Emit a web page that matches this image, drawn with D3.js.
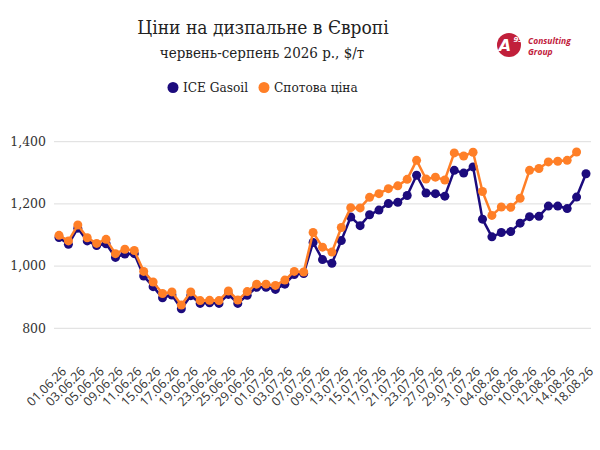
<!DOCTYPE html>
<html>
<head>
<meta charset="utf-8">
<script src="https://cdn.jsdelivr.net/npm/d3@7"></script>
<style>
  body { margin: 0; background: #fff; }
  svg { display: block; }
</style>
</head>
<body>
<svg id="chart" width="600" height="450"></svg>
<script>
// trading days, 01.06.26 - 18.08.26
var dates = [
  '01.06.26','02.06.26','03.06.26','04.06.26','05.06.26','08.06.26','09.06.26','10.06.26','11.06.26','12.06.26',
  '15.06.26','16.06.26','17.06.26','18.06.26','19.06.26','22.06.26','23.06.26','24.06.26','25.06.26','26.06.26',
  '29.06.26','30.06.26','01.07.26','02.07.26','03.07.26','06.07.26','07.07.26','08.07.26','09.07.26','10.07.26',
  '13.07.26','14.07.26','15.07.26','16.07.26','17.07.26','20.07.26','21.07.26','22.07.26','23.07.26','24.07.26',
  '27.07.26','28.07.26','29.07.26','30.07.26','31.07.26','03.08.26','04.08.26','05.08.26','06.08.26','07.08.26',
  '10.08.26','11.08.26','12.08.26','13.08.26','14.08.26','17.08.26','18.08.26'
];

var iceGasoil = [
  1092,1070,1122,1081,1066,1072,1028,1039,1040,968,
  934,898,907,863,905,880,882,880,909,880,
  906,932,932,925,942,973,976,1076,1021,1009,
  1082,1158,1130,1165,1180,1201,1205,1227,1292,1235,
  1233,1225,1308,1299,1319,1151,1094,1108,1111,1138,
  1159,1160,1193,1193,1185,1222,1297
];

// spot price has no value for the last day
var spotPrice = [
  1099,1081,1132,1091,1073,1086,1040,1054,1050,983,
  949,912,917,875,917,889,890,889,920,891,
  918,942,942,938,955,983,981,1108,1061,1045,
  1124,1188,1187,1221,1233,1249,1258,1279,1340,1280,
  1286,1277,1364,1354,1366,1240,1163,1190,1189,1218,
  1308,1314,1335,1337,1340,1367
];

var yTicks = [800, 1000, 1200, 1400];
var tickLabels = dates.filter(function(d, i) { return i % 2 === 0; });

var seriesNames = ['ICE Gasoil', 'Спотова ціна'];
var colors = ['#1c0b7d', '#ff7f27'];

var serif = '"DejaVu Serif", serif';
var serifNarrow = '"DejaVu Serif Condensed", "DejaVu Serif", serif';
var sans = '"Open Sans", "Noto Sans", sans-serif';

var svg = d3.select('#chart');

var x = d3.scalePoint().domain(dates).range([59, 586]);
var y = d3.scaleLinear().domain([800, 1400]).range([328.3, 141.7]);

// title
svg.append('text')
  .attr('x', 263).attr('y', 34)
  .attr('text-anchor', 'middle')
  .style('font-family', serifNarrow).style('font-stretch', 'condensed')
  .style('font-size', '19px')
  .style('fill', '#222')
  .text('Ціни на дизпальне в Європі');

svg.append('text')
  .attr('x', 262).attr('y', 58)
  .attr('text-anchor', 'middle')
  .style('font-family', serifNarrow).style('font-stretch', 'condensed')
  .style('font-size', '15px')
  .style('fill', '#222')
  .text('червень-серпень 2026 р., $/т');

// logo
var logo = svg.append('g').attr('transform', 'translate(509,45)');
logo.append('circle').attr('r', 12).attr('fill', '#c1203b');
logo.append('text')
  .attr('x', -4).attr('y', 6)
  .attr('text-anchor', 'middle')
  .style('font-family', '"DejaVu Sans", sans-serif')
  .style('font-weight', 'bold').style('font-style', 'italic')
  .style('font-size', '16px').style('fill', '#fff')
  .text('A');
logo.append('text')
  .attr('x', 4.5).attr('y', -3)
  .style('font-family', '"DejaVu Sans", sans-serif')
  .style('font-weight', 'bold').style('font-style', 'italic')
  .style('font-size', '7px').style('fill', '#fff')
  .text('95');
logo.append('text')
  .attr('x', 19).attr('y', -1.5)
  .style('font-family', '"Open Sans", sans-serif')
  .style('font-weight', 'bold').style('font-style', 'italic')
  .style('font-size', '8.5px').style('fill', '#c1203b')
  .text('Consulting');
logo.append('text')
  .attr('x', 19).attr('y', 9.5)
  .style('font-family', '"Open Sans", sans-serif')
  .style('font-weight', 'bold').style('font-style', 'italic')
  .style('font-size', '8.5px').style('fill', '#c1203b')
  .text('Group');

// legend
var legendX = [173, 264];
var legend = svg.append('g');
seriesNames.forEach(function(name, i) {
  legend.append('circle')
    .attr('cx', legendX[i]).attr('cy', 87.5).attr('r', 5.5)
    .attr('fill', colors[i]);
  legend.append('text')
    .attr('x', legendX[i] + 10).attr('y', 92)
    .style('font-family', serifNarrow).style('font-stretch', 'condensed')
    .style('font-size', '13.5px')
    .style('fill', '#222')
    .text(name);
});

// grid + y labels
var grid = svg.append('g');
grid.selectAll('line')
  .data(yTicks)
  .enter().append('line')
    .attr('x1', 54).attr('x2', 591)
    .attr('y1', function(d) { return y(d); })
    .attr('y2', function(d) { return y(d); })
    .attr('stroke', '#dddddd').attr('stroke-width', 1);
grid.selectAll('text')
  .data(yTicks)
  .enter().append('text')
    .attr('x', 46)
    .attr('y', function(d) { return y(d); })
    .attr('dy', '0.35em')
    .attr('text-anchor', 'end')
    .style('font-family', serif).style('font-size', '12.5px')
    .style('fill', '#333')
    .text(d3.format(','));

// x labels
svg.append('g').selectAll('text')
  .data(tickLabels)
  .enter().append('text')
    .attr('transform', function(d) { return 'translate(' + (x(d) + 5) + ',369) rotate(-45)'; })
    .attr('text-anchor', 'end')
    .attr('dy', '0.35em')
    .style('font-family', sans).style('font-size', '12.5px')
    .style('fill', '#333')
    .text(function(d) { return d; });

// series
var data = [
  iceGasoil.map(function(v, i) { return { d: dates[i], v: v }; }),
  spotPrice.map(function(v, i) { return { d: dates[i], v: v }; })
];

var line = d3.line()
  .x(function(p) { return x(p.d); })
  .y(function(p) { return y(p.v); });

data.forEach(function(pts, i) {
  var g = svg.append('g');
  g.append('path')
    .attr('d', line(pts))
    .attr('fill', 'none')
    .attr('stroke', colors[i])
    .attr('stroke-width', 2.5)
    .attr('stroke-linejoin', 'round');
  g.selectAll('circle')
    .data(pts)
    .enter().append('circle')
      .attr('cx', function(p) { return x(p.d); })
      .attr('cy', function(p) { return y(p.v); })
      .attr('r', 4.5)
      .attr('fill', colors[i]);
});
</script>
</body>
</html>
